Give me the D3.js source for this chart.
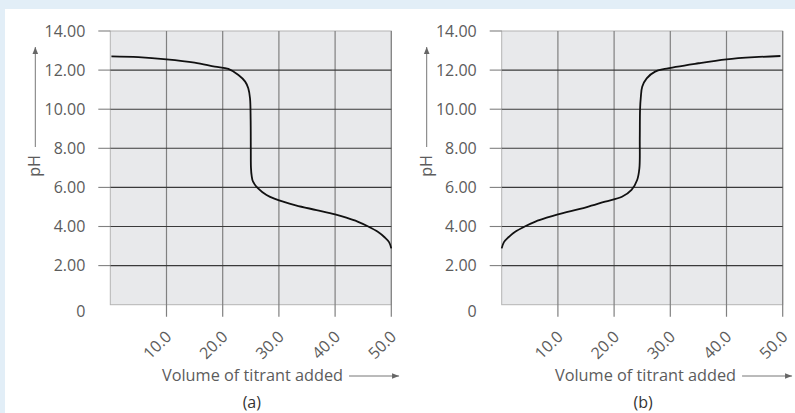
<!DOCTYPE html>
<html>
<head>
<meta charset="utf-8">
<script src="https://cdn.jsdelivr.net/npm/d3@7"></script>
<style>
  body { margin: 0; background: #fff; }
  svg { display: block; font-family: "Open Sans", "Noto Sans", sans-serif; }
</style>
</head>
<body>
<svg id="chart" width="795" height="413"></svg>
<script>
// pH values
const phTicks = [0, 2, 4, 6, 8, 10, 12, 14];
const volTicks = [10, 20, 30, 40, 50];

// (a) base titrated with acid
const volA = [0.2, 5, 10, 15, 18.6, 21.0, 22.8, 24.0, 24.55, 24.86, 24.97, 25.0, 25.03, 25.15, 25.4, 26.3, 27.8, 29.3, 33, 36.7, 40, 42, 44, 45.9, 47.6, 48.8, 49.6, 50];
const phA  = [12.70, 12.66, 12.55, 12.38, 12.18, 12.06, 11.75, 11.41, 11.07, 10.56, 9.5, 8.0, 7.0, 6.6, 6.29, 5.95, 5.61, 5.41, 5.08, 4.84, 4.62, 4.45, 4.25, 4.0, 3.73, 3.45, 3.2, 2.88];

// (b) acid titrated with base
const volB = [0, 0.4, 1.2, 2.4, 4.1, 6, 8, 10, 15, 18.4, 21.4, 23.1, 24.1, 24.5, 24.57, 24.62, 24.75, 25.0, 25.8, 27.3, 29, 35, 40, 45, 49.6];
const phB  = [2.88, 3.2, 3.45, 3.73, 4.0, 4.25, 4.45, 4.62, 4.98, 5.27, 5.52, 5.87, 6.38, 6.98, 8.5, 10.0, 10.6, 11.15, 11.58, 11.92, 12.06, 12.35, 12.55, 12.66, 12.72];

const panelLabels = ['(a)', '(b)'];

const svg = d3.select('#chart');

// light blue frame on top and left
svg.append('rect').attr('width', 795).attr('height', 413).attr('fill', '#e2eef7');
svg.append('rect').attr('x', 5).attr('y', 9).attr('width', 790).attr('height', 404).attr('fill', '#fff');

const defs = svg.append('defs');
defs.append('marker')
  .attr('id', 'arrow')
  .attr('viewBox', '0 0 10 10')
  .attr('refX', 10).attr('refY', 5)
  .attr('markerWidth', 7).attr('markerHeight', 7)
  .attr('markerUnits', 'userSpaceOnUse')
  .attr('orient', 'auto')
  .append('path')
  .attr('d', 'M0,1 L10,5 L0,9 Z')
  .attr('fill', '#666');

const TOP = 31, BOTTOM = 304.7;
const GRID_DARK = '#3a3a3a', GRID_LIGHT = '#808080', TEXT = '#5c5c5c';

function drawPanel(left, right, vols, phs, label, axisX) {
  let x = d3.scaleLinear().domain([0, 50]).range([left, right]);
  let y = d3.scaleLinear().domain([0, 14]).range([BOTTOM, TOP]);
  let g = svg.append('g');

  g.append('rect')
    .attr('x', x(0)).attr('y', y(14))
    .attr('width', x(50) - x(0)).attr('height', y(0) - y(14))
    .attr('fill', '#e8e9eb')
    .attr('stroke', '#b4b4b4').attr('stroke-width', 1);

  // vertical grid lines, extended below as ticks
  g.selectAll('.vgrid').data(volTicks).enter()
    .append('line')
    .attr('x1', d => x(d)).attr('x2', d => x(d))
    .attr('y1', y(14))
    .attr('y2', y(0) + 12)
    .attr('stroke', GRID_LIGHT).attr('stroke-width', 1.2);

  // horizontal grid lines (dark inside, gray tick outside)
  let inner = phTicks.filter(d => d > 0 && d < 14);
  g.selectAll('.hgrid').data(inner).enter()
    .append('line')
    .attr('x1', x(0)).attr('x2', x(50))
    .attr('y1', d => y(d)).attr('y2', d => y(d))
    .attr('stroke', GRID_DARK).attr('stroke-width', 1.1);
  g.selectAll('.htick').data(phTicks.filter(d => d > 0)).enter()
    .append('line')
    .attr('x1', x(0) - 12).attr('x2', x(0))
    .attr('y1', d => y(d)).attr('y2', d => y(d))
    .attr('stroke', GRID_LIGHT).attr('stroke-width', 1.1);

  // y tick labels
  g.selectAll('.ylab').data(phTicks).enter()
    .append('text')
    .attr('x', x(0) - 25)
    .attr('y', d => y(d) + (d === 0 ? 7 : 0))
    .attr('dy', '0.36em')
    .attr('text-anchor', 'end')
    .attr('font-size', 16)
    .attr('fill', TEXT)
    .text(d => d === 0 ? '0' : d3.format('.2f')(d));

  // x tick labels, rotated
  g.selectAll('.xlab').data(volTicks).enter()
    .append('text')
    .attr('transform', d => `translate(${x(d) + 6},${y(0) + 33}) rotate(-45)`)
    .attr('text-anchor', 'end')
    .attr('font-size', 16)
    .attr('fill', TEXT)
    .text(d => d3.format('.1f')(d));

  // titration curve
  let pts = d3.zip(vols, phs);
  g.append('path')
    .datum(pts)
    .attr('d', d3.line().x(d => x(d[0])).y(d => y(d[1])).curve(d3.curveCatmullRom.alpha(0.5)))
    .attr('fill', 'none')
    .attr('stroke', '#111')
    .attr('stroke-width', 1.8);

  // pH axis title with arrow
  let phx = left - 75;
  g.append('text')
    .attr('transform', `translate(${phx + 5},166) rotate(-90)`)
    .attr('text-anchor', 'middle')
    .attr('font-size', 16)
    .attr('fill', TEXT)
    .text('pH');
  g.append('line')
    .attr('x1', phx).attr('x2', phx)
    .attr('y1', 147).attr('y2', 47)
    .attr('stroke', '#777').attr('stroke-width', 1)
    .attr('marker-end', 'url(#arrow)');

  // volume axis title with arrow
  let title = g.append('text')
    .attr('x', axisX).attr('y', 381)
    .attr('font-size', 16.3)
    .attr('fill', TEXT)
    .text('Volume of titrant added');
  let tw = title.node().getComputedTextLength();
  g.append('line')
    .attr('x1', axisX + tw + 6).attr('x2', axisX + tw + 56)
    .attr('y1', 376).attr('y2', 376)
    .attr('stroke', '#777').attr('stroke-width', 1)
    .attr('marker-end', 'url(#arrow)');

  g.append('text')
    .attr('x', (x(0) + x(50)) / 2 + 1).attr('y', 408)
    .attr('text-anchor', 'middle')
    .attr('font-size', 16)
    .attr('fill', '#333')
    .text(label);
}

drawPanel(110.3, 391.3, volA, phA, panelLabels[0], 162);
drawPanel(501.7, 782.7, volB, phB, panelLabels[1], 555);
</script>
</body>
</html>
